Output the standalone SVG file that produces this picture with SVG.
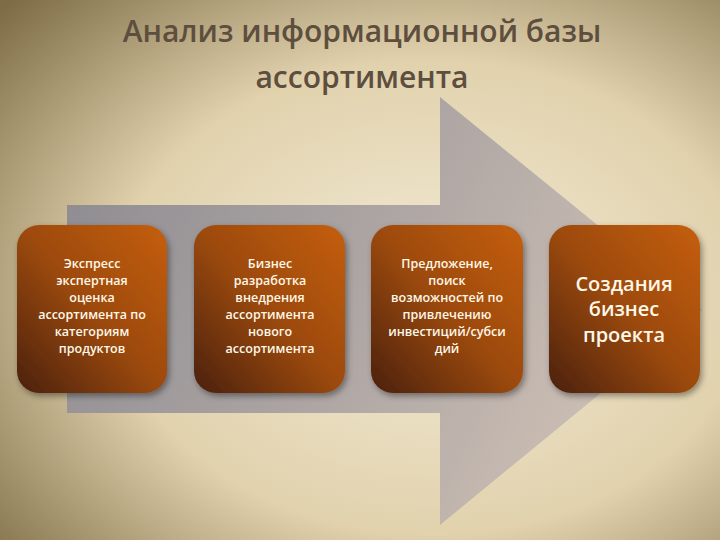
<svg xmlns="http://www.w3.org/2000/svg" width="720" height="540" viewBox="0 0 720 540">
<defs>
<radialGradient id="bg" cx="0.6" cy="0.55" r="0.8">
<stop offset="0" stop-color="#f3ead6"/>
<stop offset="0.55" stop-color="#e1d2ad"/>
<stop offset="1" stop-color="#7d6c46"/>
</radialGradient>
<linearGradient id="arr" x1="0" y1="0" x2="1" y2="0.3">
<stop offset="0" stop-color="#8c8a90"/>
<stop offset="0.5" stop-color="#aaa3a2"/>
<stop offset="1" stop-color="#cdbfb4"/>
</linearGradient>
<linearGradient id="box" x1="1" y1="0" x2="0" y2="1">
<stop offset="0" stop-color="#c55e0c"/>
<stop offset="0.5" stop-color="#9c4a10"/>
<stop offset="1" stop-color="#4a2008"/>
</linearGradient>
<filter id="sh" x="-10%" y="-10%" width="130%" height="130%"><feDropShadow dx="2" dy="3" stdDeviation="3" flood-opacity="0.4"/></filter>
</defs>
<style>
.t{font-family:"Open Sans","DejaVu Sans",sans-serif;fill:#fff8e8;text-anchor:middle;font-size:12.5px;font-weight:600}
.big{font-size:20px}
.title{font-family:"Open Sans","DejaVu Sans",sans-serif;fill:#5e4e3e;font-size:30px;font-weight:600;text-anchor:middle}
.b{fill:url(#box);filter:url(#sh)}
</style>
<rect width="720" height="540" fill="url(#bg)"/>
<text class="title" x="362" y="42">Анализ информационной базы</text>
<text class="title" x="362" y="88">ассортимента</text>
<path d="M67 205 H440 V97 L702 310 L440 525 V413 H67 Z" fill="url(#arr)"/>
<g id="n1"><rect class="b" x="17" y="225" width="150" height="168" rx="22"/>
<text class="t"><tspan x="92" y="268">Экспресс</tspan><tspan x="92" y="285">экспертная</tspan><tspan x="92" y="302">оценка</tspan><tspan x="92" y="319">ассортимента по</tspan><tspan x="92" y="336">категориям</tspan><tspan x="92" y="353">продуктов</tspan></text></g>
<g id="n2"><rect class="b" x="194" y="225" width="151" height="168" rx="22"/>
<text class="t"><tspan x="270" y="268">Бизнес</tspan><tspan x="270" y="285">разработка</tspan><tspan x="270" y="302">внедрения</tspan><tspan x="270" y="319">ассортимента</tspan><tspan x="270" y="336">нового</tspan><tspan x="270" y="353">ассортимента</tspan></text></g>
<g id="n3"><rect class="b" x="371" y="225" width="152" height="168" rx="22"/>
<text class="t"><tspan x="447" y="268">Предложение,</tspan><tspan x="447" y="285">поиск</tspan><tspan x="447" y="302">возможностей по</tspan><tspan x="447" y="319">привлечению</tspan><tspan x="447" y="336">инвестиций/субси</tspan><tspan x="447" y="353">дий</tspan></text></g>
<g id="n4"><rect class="b" x="549" y="225" width="151" height="168" rx="22"/>
<text class="t big"><tspan x="624" y="291">Создания</tspan><tspan x="624" y="316">бизнес</tspan><tspan x="624" y="342">проекта</tspan></text></g>
<g id="connectors"/>
</svg>
